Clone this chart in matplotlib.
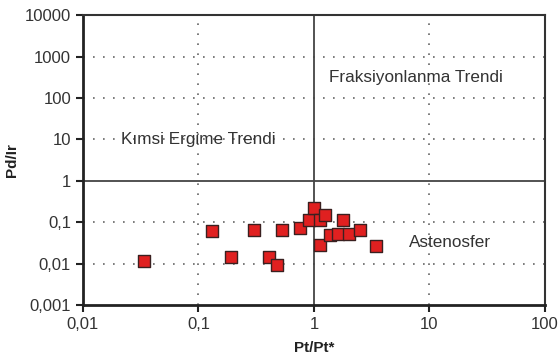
import matplotlib.pyplot as plt
from matplotlib.ticker import FixedLocator, FixedFormatter, NullLocator

# Pt/Pt* ve Pd/Ir degerleri
pt_pt = [0.034, 0.130, 0.192, 0.303, 0.408, 0.481, 0.532, 0.757, 0.905, 1.0,
         1.12, 1.26, 1.12, 1.38, 1.62, 1.78, 2.01, 2.49, 3.42]
pd_ir = [0.0112, 0.060, 0.0147, 0.065, 0.0147, 0.0090, 0.065, 0.072, 0.115, 0.22,
         0.115, 0.152, 0.0287, 0.049, 0.052, 0.113, 0.052, 0.065, 0.027]

x_ticks = [0.01, 0.1, 1, 10, 100]
x_labels = ['0,01', '0,1', '1', '10', '100']
y_ticks = [0.001, 0.01, 0.1, 1, 10, 100, 1000, 10000]
y_labels = ['0,001', '0,01', '0,1', '1', '10', '100', '1000', '10000']

plt.rcParams['font.family'] = ['Liberation Sans', 'DejaVu Sans']

fig = plt.figure(figsize=(5.6, 3.6), dpi=100)
ax = fig.add_axes([0.148, 0.153, 0.825, 0.805])

ax.set_xscale('log')
ax.set_yscale('log')
ax.set_xlim(0.01, 100)
ax.set_ylim(0.001, 10000)

# Noktali izgara
for xv in x_ticks[1:-1]:
    if xv != 1:
        ax.axvline(xv, color='#666666', linestyle=(0, (1, 5)), linewidth=1.2, zorder=1)
for yv in y_ticks[1:-1]:
    if yv != 1:
        ax.axhline(yv, color='#666666', linestyle=(0, (1, 5)), linewidth=1.2, zorder=1)

# Ana bolme cizgileri
ax.axvline(1, color='#444444', linewidth=1.3, zorder=2)
ax.axhline(1, color='#444444', linewidth=1.3, zorder=2)

ax.scatter(pt_pt, pd_ir, marker='s', s=68, facecolor='#e02020',
           edgecolor='#3a2020', linewidth=1.0, zorder=3)

ax.xaxis.set_major_locator(FixedLocator(x_ticks))
ax.xaxis.set_major_formatter(FixedFormatter(x_labels))
ax.yaxis.set_major_locator(FixedLocator(y_ticks))
ax.yaxis.set_major_formatter(FixedFormatter(y_labels))
ax.xaxis.set_minor_locator(NullLocator())
ax.yaxis.set_minor_locator(NullLocator())
ax.tick_params(axis='both', direction='out', length=5, width=1.5,
               labelsize=12, colors='#222222', labelcolor='#333333')

for side in ['left', 'bottom']:
    ax.spines[side].set_linewidth(2)
    ax.spines[side].set_color('#222222')
for side in ['top', 'right']:
    ax.spines[side].set_linewidth(1.5)
    ax.spines[side].set_color('#333333')

ax.text(0.1, 10, 'Kımsi Ergime Trendi', fontsize=12.3, color='#333333',
        ha='center', va='center')
ax.text(7.6, 320, 'Fraksiyonlanma Trendi', fontsize=12.3, color='#333333',
        ha='center', va='center')
ax.text(15, 0.032, 'Astenosfer', fontsize=12.3, color='#333333',
        ha='center', va='center')

ax.set_xlabel('Pt/Pt*', fontsize=11, fontweight='bold', color='#222222', labelpad=7)
ax.set_ylabel('Pd/Ir', fontsize=11, fontweight='bold', color='#222222', labelpad=4)

fig.savefig('out.png', dpi=100)
